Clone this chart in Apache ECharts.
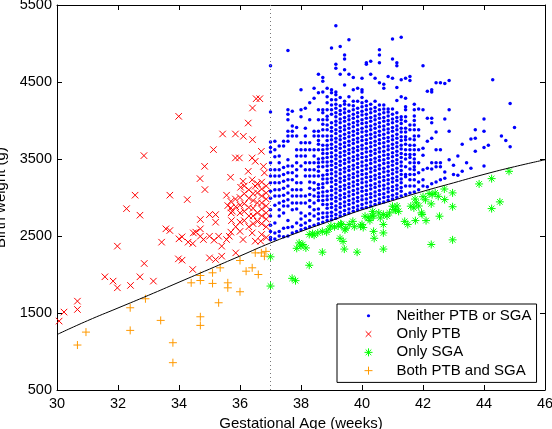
<!DOCTYPE html>
<html>
<head>
<meta charset="utf-8">
<script src="https://cdn.jsdelivr.net/npm/echarts@6/dist/echarts.min.js"></script>
<style>
  html, body { margin: 0; padding: 0; background: #fff; }
  #chart { width: 552px; height: 429px; }
</style>
</head>
<body>
<div id="chart"></div>
<script>
// axis ticks
const xTicks = [30, 32, 34, 36, 38, 40, 42, 44, 46];
const yTicks = [500, 1500, 2500, 3500, 4500, 5500];

// reference growth curve (weeks, grams)
const curveWeeks = [30, 31, 32, 33, 34, 35, 36, 37, 38, 39, 40, 41, 42, 43, 44, 45, 46];
const curveWeights = [1220, 1400, 1565, 1730, 1900, 2070, 2240, 2410, 2560, 2700, 2840, 2960, 3080, 3190, 3300, 3400, 3490];

// term cut-off
const termWeek = 37;

// "Neither PTB or SGA": gestational age in days, weights per day
const neitherDays = [259, 260, 261, 262, 263, 264, 265, 266, 267, 268, 269, 270, 271, 272, 273, 274, 275, 276,
  277, 278, 279, 280, 281, 282, 283, 284, 285, 286, 287, 288, 289, 290, 291, 292, 293, 294, 295, 296, 297, 298,
  299, 300, 301, 302, 303, 304, 305, 306, 308, 309, 310, 312, 313, 314, 315];
const neitherWeights = [
  [2450, 2480, 2560, 2640, 2760, 2840, 2990, 3080, 3190, 3280, 3360, 3450, 3590, 3650, 3720, 4110, 4710],
  [2460, 2540, 2670, 2900, 3020, 3100, 3190, 3280, 3360, 3530, 3620, 3730],
  [2500, 2560, 2760, 2840, 2930, 3020, 3100, 3190, 3280, 3360, 3450, 3540, 3670],
  [2490, 2600, 2800, 2890, 2950, 3030, 3120, 3210, 3300, 3390, 3670, 3730],
  [2500, 2610, 2700, 2890, 2970, 3060, 3150, 3230, 3320, 3410, 3490, 3730, 3800, 3860, 4010, 4080, 4140, 4910],
  [2540, 2620, 2840, 2930, 3020, 3100, 3230, 3320, 3410, 3800, 3860, 3930, 4120],
  [2560, 2670, 2850, 2930, 3020, 3100, 3190, 3280, 3360, 3450, 3540, 3620, 3800, 3910],
  [2580, 2640, 2720, 2800, 2930, 3020, 3100, 3190, 3410, 3540, 3620, 3710, 4050, 4140, 4400],
  [2600, 2670, 2760, 2930, 3020, 3280, 3360, 3450, 3540, 3620, 3710, 3800, 3900, 4160],
  [2620, 2700, 2790, 2880, 2960, 3040, 3120, 3200, 3280, 3360, 3450, 3620, 3710, 4010, 4230],
  [2640, 2760, 2840, 2930, 3020, 3100, 3190, 3280, 3360, 3450, 3540, 3620, 3800, 3860, 4290, 4420],
  [2660, 2720, 2790, 2850, 2960, 3010, 3060, 3120, 3170, 3280, 3340, 3400, 3450, 3500, 3620, 3690, 3740, 3800, 3860, 4010, 4140, 4360, 4600],
  [2680, 2740, 2800, 2910, 2960, 3020, 3070, 3130, 3180, 3240, 3290, 3400, 3460, 3510, 3570, 3620, 3680, 3800, 3880, 3950, 4010, 4100, 4140, 4370, 4510, 4560],
  [2700, 2750, 2800, 2860, 2910, 2970, 3020, 3080, 3190, 3240, 3300, 3350, 3410, 3460, 3520, 3570, 3630, 3680, 3740, 3800, 3880, 3940, 4010, 4055, 4140, 4230, 4310, 4420],
  [2710, 2760, 2810, 2870, 2920, 2980, 3030, 3090, 3140, 3200, 3250, 3310, 3360, 3420, 3470, 3530, 3580, 3640, 3690, 3750, 3800, 3860, 3910, 3970, 4080, 4140, 4200, 4270, 4360, 4400, 4940],
  [2730, 2780, 2840, 2890, 2950, 3000, 3060, 3110, 3170, 3220, 3280, 3330, 3390, 3440, 3500, 3550, 3610, 3660, 3720, 3770, 3830, 3880, 3940, 3990, 4050, 4100, 4160, 4210, 4270, 4335, 4370, 4680, 4730, 5230],
  [2760, 2810, 2870, 2920, 2980, 3030, 3090, 3140, 3200, 3250, 3310, 3360, 3420, 3470, 3530, 3580, 3640, 3690, 3750, 3800, 3860, 3910, 3970, 4020, 4080, 4130, 4190, 4300, 4600, 4960],
  [2780, 2830, 2890, 2940, 3000, 3050, 3110, 3160, 3220, 3270, 3330, 3380, 3440, 3490, 3550, 3600, 3660, 3710, 3770, 3820, 3880, 3930, 3990, 4040, 4100, 4150, 4210, 4250, 4460, 4660, 4800, 4850],
  [2800, 2850, 2910, 2960, 3020, 3070, 3130, 3180, 3240, 3290, 3350, 3400, 3460, 3510, 3570, 3620, 3680, 3730, 3790, 3840, 3900, 3950, 4010, 4060, 4120, 4200, 4310, 4600, 5050],
  [2820, 2870, 2930, 2980, 3040, 3090, 3150, 3200, 3260, 3310, 3370, 3420, 3480, 3530, 3590, 3640, 3700, 3750, 3810, 3860, 3920, 3970, 4030, 4080, 4140, 4190, 4250, 4400, 4560],
  [2840, 2890, 2950, 3000, 3060, 3110, 3170, 3220, 3280, 3330, 3390, 3440, 3500, 3550, 3610, 3660, 3720, 3770, 3830, 3880, 3940, 3990, 4050, 4100, 4160, 4250, 4420],
  [2860, 2910, 2970, 3020, 3080, 3130, 3190, 3240, 3300, 3350, 3410, 3460, 3520, 3570, 3630, 3680, 3740, 3790, 3850, 3900, 3960, 4010, 4070, 4120, 4180, 4230, 4300, 4370, 4400, 4550],
  [2870, 2930, 2980, 3040, 3090, 3150, 3200, 3260, 3310, 3370, 3420, 3480, 3530, 3590, 3640, 3700, 3750, 3810, 3860, 3920, 3970, 4030, 4080, 4140, 4190, 4250, 4730, 4750],
  [2890, 2940, 3000, 3050, 3110, 3160, 3220, 3270, 3330, 3380, 3440, 3490, 3550, 3600, 3660, 3710, 3770, 3820, 3880, 3930, 3990, 4040, 4100, 4150, 4210, 4600, 4770],
  [2910, 2960, 3020, 3070, 3130, 3180, 3240, 3290, 3350, 3400, 3460, 3510, 3570, 3620, 3680, 3730, 3790, 3840, 3900, 3950, 4010, 4060, 4120, 4170, 4250, 4550],
  [2930, 2980, 3040, 3090, 3150, 3200, 3260, 3310, 3370, 3420, 3480, 3530, 3590, 3640, 3700, 3750, 3810, 3860, 3920, 3970, 4030, 4080, 4140, 4200, 4490, 4750, 4850, 4920],
  [2940, 3000, 3050, 3110, 3160, 3220, 3270, 3330, 3380, 3440, 3490, 3550, 3600, 3660, 3710, 3770, 3820, 3880, 3930, 3990, 4040, 4100, 4150, 4200, 4420, 4470],
  [2960, 3010, 3070, 3120, 3180, 3230, 3290, 3340, 3400, 3450, 3510, 3560, 3620, 3670, 3730, 3780, 3840, 3890, 3950, 4000, 4060, 4110, 4150, 4570],
  [2980, 3030, 3090, 3140, 3200, 3250, 3310, 3360, 3420, 3470, 3530, 3580, 3640, 3690, 3750, 3800, 3860, 3910, 3970, 4020, 4080, 4150, 4550, 4800, 5060],
  [3000, 3050, 3110, 3160, 3220, 3270, 3330, 3380, 3440, 3490, 3550, 3600, 3660, 3710, 3770, 3820, 3880, 3930, 3990, 4040, 4100, 4260, 4430, 4710, 4750],
  [3020, 3080, 3130, 3190, 3240, 3300, 3350, 3410, 3460, 3520, 3570, 3630, 3680, 3740, 3790, 3850, 3900, 3960, 4010, 4050, 4310, 4530, 5080],
  [3040, 3150, 3270, 3300, 3400, 3500, 3560, 3620, 3690, 3750, 3790, 3850, 3900, 3990, 4050, 4140, 4180, 4290, 4550],
  [3060, 3150, 3230, 3300, 3370, 3450, 3520, 3560, 3620, 3680, 3760, 3880, 3940, 4520, 4570],
  [3070, 3150, 3230, 3300, 3360, 3400, 3450, 3500, 3560, 3620, 3680, 3750, 3800, 3880, 3940, 4000, 4060, 4140, 4210],
  [3100, 3200, 3320, 3450, 3620, 3800, 3880, 4150],
  [3150, 3230, 3360, 3550, 3640, 4140, 4710],
  [3140, 3380, 3730, 4030, 4380],
  [3180, 3370, 3450, 3770, 3970, 4030, 4370, 4400],
  [3200, 3400, 3450, 3620, 3850, 4490],
  [3230, 3400, 3450, 3620, 4490],
  [3250, 3330, 4020, 4480],
  [3490, 3860, 4140, 4520],
  [3300, 3420],
  [3290, 3540],
  [3340, 3690],
  [3450],
  [3380, 3760],
  [3600, 3770, 3880],
  [3410, 3650, 3860, 4020],
  [3680],
  [4530],
  [3800],
  [3740],
  [3660, 4220],
  [3910]
];

// "Only PTB"
const ptbWeeks = [29.95, 30.07, 30.23, 30.67, 30.67, 31.57, 31.84, 31.98, 31.98, 32.28, 32.41, 32.56, 32.72, 32.72, 32.85, 32.86,
  33.16, 33.43, 33.57, 33.7, 33.7, 33.98, 34.0, 34.1, 34.1, 33.99, 34.27, 34.3, 34.45, 34.47, 34.55, 34.45, 34.7, 34.7, 34.7,
  34.69, 34.8, 34.84, 34.85, 35.0, 35.0, 35.0, 35.13, 35.15, 35.2, 35.2, 35.2, 35.3, 35.4, 35.4, 35.43, 35.56, 35.56, 35.6,
  35.65, 35.69, 35.7, 35.7, 35.75, 35.85, 35.85, 35.86, 35.98, 36.02, 36.1, 36.1, 36.11, 36.27, 36.27, 36.4, 36.4, 36.4,
  36.41, 36.41, 36.5, 36.5, 36.5, 36.53, 36.65, 36.7, 36.68, 36.77, 36.8,
  35.7, 35.71, 35.72, 35.85, 35.86, 35.86, 36.0, 36.0, 36.0, 36.0, 36.0,
  36.14, 36.14, 36.14, 36.14, 36.14, 36.29, 36.29, 36.29, 36.29, 36.29,
  36.43, 36.43, 36.43, 36.43, 36.43, 36.57, 36.57, 36.57, 36.57, 36.57,
  36.71, 36.71, 36.71, 36.71, 36.71, 36.71, 36.71, 36.71,
  36.86, 36.86, 36.86, 36.86, 36.86, 36.86, 36.86, 36.86];
const ptbWeights = [1447, 1395, 1512, 1654, 1546, 1970, 1914, 1827, 2368, 2855, 1858, 3030, 2770, 1970, 3544, 2143,
  1914, 2420, 2593, 2571, 3030, 2203, 2463, 2489, 2186, 4054, 2973, 2420, 2402, 2540, 2550, 2065, 2593, 2497, 2714,
  3245, 2454, 3405, 3103, 2497, 2778, 2216, 3622, 2445, 2778, 2679, 2195, 2497, 2238, 2368, 3825, 2454, 3030, 2895,
  2497, 3263, 2550, 2865, 2822, 3514, 3825, 2281, 3514, 3133, 2454, 3211, 3795, 3967, 3340, 3514, 3230, 2540,
  4162, 3751, 3470, 3147, 2433, 4283, 4283, 3600, 2433, 3405, 3320,
  2950, 2800, 2700, 2980, 2880, 2620, 3000, 2900, 2800, 2680, 2560,
  3150, 3050, 2920, 2820, 2700, 3100, 2990, 2870, 2760, 2620,
  3050, 2960, 2860, 2760, 2660, 3180, 3060, 2930, 2800, 2690,
  3200, 3110, 3020, 2930, 2850, 2760, 2660, 2520,
  3150, 3060, 2980, 2890, 2800, 2720, 2620, 2480];

// "Only SGA"
const sgaWeeks = [37.0, 37.0, 37.71, 37.82, 37.86, 37.94, 38.0, 38.06, 38.16, 38.27, 38.27, 38.38, 38.43, 38.55, 38.7, 38.7,
  38.84, 38.92, 38.98, 39.1, 39.22, 39.3, 39.33, 39.28, 39.38, 39.42, 39.44, 39.47, 39.58, 39.7, 39.75, 39.84, 39.95, 40.0,
  40.04, 40.1, 40.2, 40.26, 40.33, 40.37, 40.38, 40.4, 40.55, 40.6, 40.7, 40.7, 40.7, 40.7, 40.82, 40.9, 41.0, 41.05, 41.1,
  41.15, 41.2, 41.4, 41.5, 41.6, 41.7, 41.75, 41.78, 41.86, 41.95, 41.97, 42.0, 42.08, 42.1, 42.2, 42.27, 42.3, 42.4, 42.5,
  42.54, 42.27, 42.7, 42.71, 42.97, 42.97, 42.97, 43.84, 44.25, 44.25, 44.52, 44.82, 41.74, 40.35];
const sgaWeights = [2230, 1850, 1950, 1920, 2340, 2410, 2370, 2390, 2345, 2120, 2520, 2530, 2510, 2540, 2290, 2560,
  2550, 2590, 2630, 2620, 2630, 2660, 2650, 2470, 2430, 2330, 2580, 2600, 2650, 2690, 2620, 2290, 2630, 2650,
  2610, 2757, 2735, 2700, 2757, 2760, 2560, 2470, 2800, 2735, 2780, 2650, 2540, 2330, 2760, 2800, 2887, 2843, 2840,
  2890, 2820, 2690, 2650, 2887, 2865, 2700, 2930, 2890, 2800, 2780, 3010, 2970, 2700, 3050, 2917, 3038, 3060, 3015,
  2757, 2390, 3110, 2973, 3060, 2880, 2450, 3176, 3245, 2856, 2943, 3340, 2980, 2820];

// "Both PTB and SGA"
const bothWeeks = [30.67, 30.95, 32.4, 32.4, 32.9, 33.4, 33.8, 33.8, 34.4, 34.7, 34.7, 34.7, 34.7, 35.1, 35.1, 35.3,
  35.35, 35.6, 35.6, 36.0, 36.0, 36.2, 36.4, 36.6, 36.5, 36.7, 36.8, 36.85];
const bothWeights = [1084, 1252, 1568, 1274, 1685, 1404, 1114, 855, 1892, 1987, 1922, 1451, 1339, 2022, 1884, 1633,
  2087, 1892, 1827, 2182, 1776, 2043, 2087, 2000, 2281, 2281, 2238, 2300];

const seriesNames = ['Neither PTB or SGA', 'Only PTB', 'Only SGA', 'Both PTB and SGA'];

const neitherData = [];
neitherDays.forEach((d, i) => {
  neitherWeights[i].forEach(w => neitherData.push([d / 7, w]));
});
const zip = (xs, ys) => xs.map((x, i) => [x, ys[i]]);

const FONT = "'Liberation Sans', Arial, sans-serif";
const xShape = 'path://M0,0L10,10M10,0L0,10';
const starShape = 'path://M5,0L5,10M0,5L10,5M1.5,1.5L8.5,8.5M8.5,1.5L1.5,8.5';
const plusShape = 'path://M5,0L5,10M0,5L10,5';

const chart = echarts.init(document.getElementById('chart'));

const axisCommon = {
  axisLine: { show: true, onZero: false, lineStyle: { color: '#000', width: 1 } },
  axisTick: { show: true, inside: true, length: 5, lineStyle: { color: '#000' } },
  splitLine: { show: false }
};
const plain = v => String(v);

chart.setOption({
  animation: false,
  backgroundColor: '#fff',
  grid: { left: 57, right: 7, top: 5, bottom: 39, outerBoundsMode: 'none' },
  xAxis: [
    Object.assign({
      type: 'value', min: xTicks[0], max: xTicks[xTicks.length - 1], interval: 2, position: 'bottom',
      name: 'Gestational Age (weeks)', nameLocation: 'middle', nameGap: 23,
      nameTextStyle: { color: '#000', fontSize: 15, fontFamily: FONT },
      axisLabel: { color: '#000', fontSize: 14.5, fontFamily: FONT, margin: 6, formatter: plain }
    }, axisCommon),
    Object.assign({
      type: 'value', min: xTicks[0], max: xTicks[xTicks.length - 1], interval: 2, position: 'top',
      axisLabel: { show: false }
    }, axisCommon)
  ],
  yAxis: [
    Object.assign({
      type: 'value', min: yTicks[0], max: yTicks[yTicks.length - 1], interval: 1000, position: 'left',
      name: 'Birth weight (g)', nameLocation: 'middle', nameGap: 42,
      nameTextStyle: { color: '#000', fontSize: 15, fontFamily: FONT },
      axisLabel: { color: '#000', fontSize: 14.5, fontFamily: FONT, margin: 5, formatter: plain }
    }, axisCommon),
    Object.assign({
      type: 'value', min: yTicks[0], max: yTicks[yTicks.length - 1], interval: 1000, position: 'right',
      axisLabel: { show: false }
    }, axisCommon)
  ],
  legend: {
    orient: 'vertical',
    left: 337,
    top: 304,
    padding: [2.6, 5, 2.6, 26],
    itemWidth: 10,
    itemHeight: 10,
    itemGap: 0,
    backgroundColor: '#fff',
    borderColor: '#000',
    borderWidth: 1,
    borderRadius: 0,
    textStyle: { color: '#000', fontSize: 15, fontFamily: FONT, lineHeight: 18.3, padding: [0, 0, 0, 18] },
    data: [
      { name: seriesNames[0], icon: 'path://M0,0M10,10M3.4,5A1.6,1.6,0,1,1,6.6,5A1.6,1.6,0,1,1,3.4,5Z',
        itemStyle: { color: '#0000ff', borderWidth: 0 } },
      { name: seriesNames[1], icon: 'path://M0,0M10,10M2.2,2.2L7.8,7.8M7.8,2.2L2.2,7.8',
        itemStyle: { color: '#ff0000', borderColor: '#ff0000', borderWidth: 1 } },
      { name: seriesNames[2], icon: 'path://M0,0M10,10M5,1L5,9M1,5L9,5M2.2,2.2L7.8,7.8M7.8,2.2L2.2,7.8',
        itemStyle: { color: '#00ff00', borderColor: '#00ff00', borderWidth: 1 } },
      { name: seriesNames[3], icon: 'path://M0,0M10,10M5,1L5,9M1,5L9,5',
        itemStyle: { color: '#ff9900', borderColor: '#ff9900', borderWidth: 1 } }
    ]
  },
  series: [
    {
      name: seriesNames[0], type: 'scatter', data: neitherData,
      symbol: 'circle', symbolSize: 3.5,
      itemStyle: { color: '#0000ff', opacity: 1 }
    },
    {
      name: seriesNames[1], type: 'scatter', data: zip(ptbWeeks, ptbWeights),
      symbol: xShape, symbolSize: 6.5,
      itemStyle: { color: '#ff0000', borderColor: '#ff0000', borderWidth: 1, opacity: 1 }
    },
    {
      name: seriesNames[2], type: 'scatter', data: zip(sgaWeeks, sgaWeights),
      symbol: starShape, symbolSize: 8,
      itemStyle: { color: '#00ff00', borderColor: '#00ff00', borderWidth: 1, opacity: 1 }
    },
    {
      name: seriesNames[3], type: 'scatter', data: zip(bothWeeks, bothWeights),
      symbol: plusShape, symbolSize: 8,
      itemStyle: { color: '#ff9900', borderColor: '#ff9900', borderWidth: 1, opacity: 1 }
    },
    {
      name: 'curve', type: 'line', data: zip(curveWeeks, curveWeights),
      smooth: true, showSymbol: false, symbol: 'none', z: 5,
      lineStyle: { color: '#000', width: 1 },
      markLine: {
        silent: true, symbol: ['none', 'none'], label: { show: false },
        lineStyle: { color: '#777', width: 1, type: [1, 3] },
        data: [{ xAxis: termWeek }]
      }
    }
  ]
});
</script>
</body>
</html>
